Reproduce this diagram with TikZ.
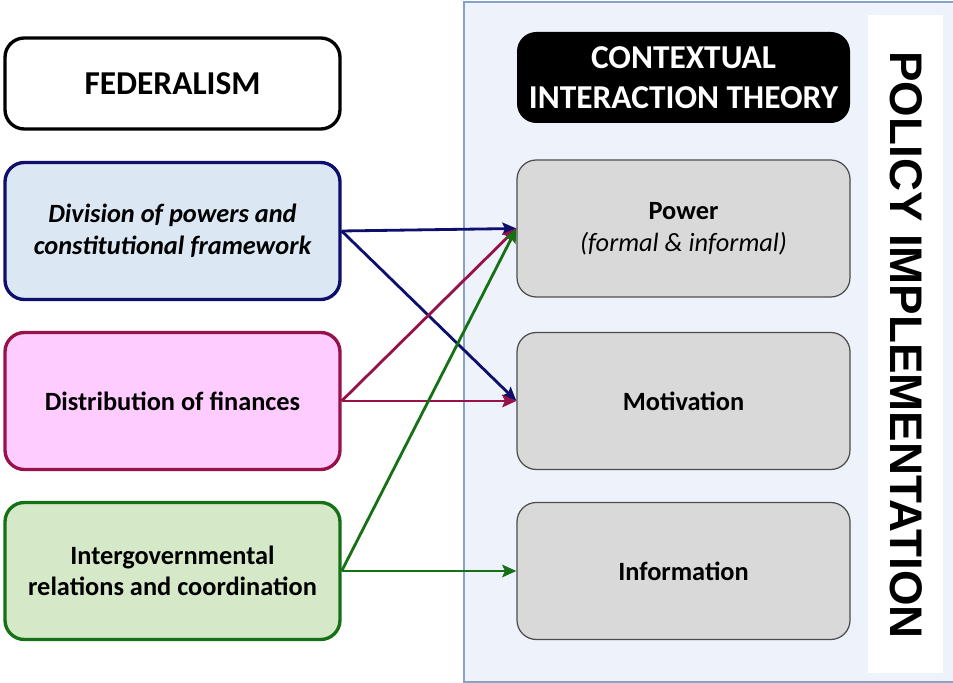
\documentclass[tikz,border=0pt]{standalone}
\usepackage{fontspec}
\setmainfont{Carlito}
\newfontfamily\headfont{Liberation Sans}
\usetikzlibrary{arrows.meta,positioning}
\definecolor{cinavy}{RGB}{14,14,108}
\definecolor{cicrimson}{RGB}{150,18,72}
\definecolor{cigreen}{RGB}{22,112,22}
\definecolor{ciblue}{RGB}{220,231,244}
\definecolor{cipink}{RGB}{255,204,255}
\definecolor{cilime}{RGB}{213,232,200}
\definecolor{cipanel}{RGB}{238,242,250}
\definecolor{cipanelline}{RGB}{135,162,200}
\definecolor{cigray}{RGB}{217,217,217}

\begin{document}
\begin{tikzpicture}[
  every node/.style={font=\fontsize{15}{18}\selectfont\bfseries},
  fedbox/.style={draw,rounded corners=11pt,line width=1.9pt,minimum width=6.7cm,
                 minimum height=2.74cm,align=center},
  citbox/.style={draw=black!70,fill=cigray,rounded corners=11pt,line width=0.7pt,
                 minimum width=6.66cm,minimum height=2.74cm,align=center},
  link/.style={line width=1.6pt,-{Stealth[length=8pt,width=7pt,inset=1.5pt]}},
]
  \useasboundingbox (0,0) rectangle (19.06,13.66);

  % Policy implementation panel
  \draw[cipanelline,fill=cipanel,line width=0.6pt] (9.28,0.02) rectangle (19.3,13.62);
  \fill[white] (17.36,0.2) rectangle (18.86,13.36);
  \node[rotate=-90,font=\headfont\fontsize{26}{30}\selectfont\bfseries] (policy) at (18.12,6.76)
    {POLICY IMPLEMENTATION};

  % Federalism side
  \node[fedbox,fill=white,draw=black,minimum height=1.82cm,
        font=\fontsize{19}{22}\selectfont\bfseries] (fed) at (3.45,11.99) {FEDERALISM};
  \node[fedbox,fill=ciblue,draw=cinavy,font=\fontsize{15}{18}\selectfont\bfseries\itshape] (div) at (3.45,9.04)
    {Division of powers and\\constitutional framework};
  \node[fedbox,fill=cipink,draw=cicrimson] (fin) at (3.45,5.64) {Distribution of finances};
  \node[fedbox,fill=cilime,draw=cigreen] (igr) at (3.45,2.24)
    {Intergovernmental\\relations and coordination};

  % Contextual interaction theory side
  \node[fill=black,text=white,rounded corners=11pt,minimum width=6.66cm,minimum height=1.82cm,
        align=center,font=\fontsize{19}{22.7}\selectfont\bfseries] (cit) at (13.67,12.11)
    {CONTEXTUAL\\INTERACTION THEORY};
  \node[citbox] (pow) at (13.67,9.09) {Power\\{\mdseries\itshape (formal \& informal)}};
  \node[citbox] (mot) at (13.67,5.64) {Motivation};
  \node[citbox] (inf) at (13.67,2.24) {Information};

  % Links
  \draw[link,cinavy] (div.east) -- (pow.west);
  \draw[link,cinavy] (div.east) -- (mot.west);
  \draw[link,cicrimson] (fin.east) -- (pow.west);
  \draw[link,cicrimson] (fin.east) -- (mot.west);
  \draw[link,cigreen] (igr.east) -- (pow.west);
  \draw[link,cigreen] (igr.east) -- (inf.west);
\end{tikzpicture}
\end{document}
